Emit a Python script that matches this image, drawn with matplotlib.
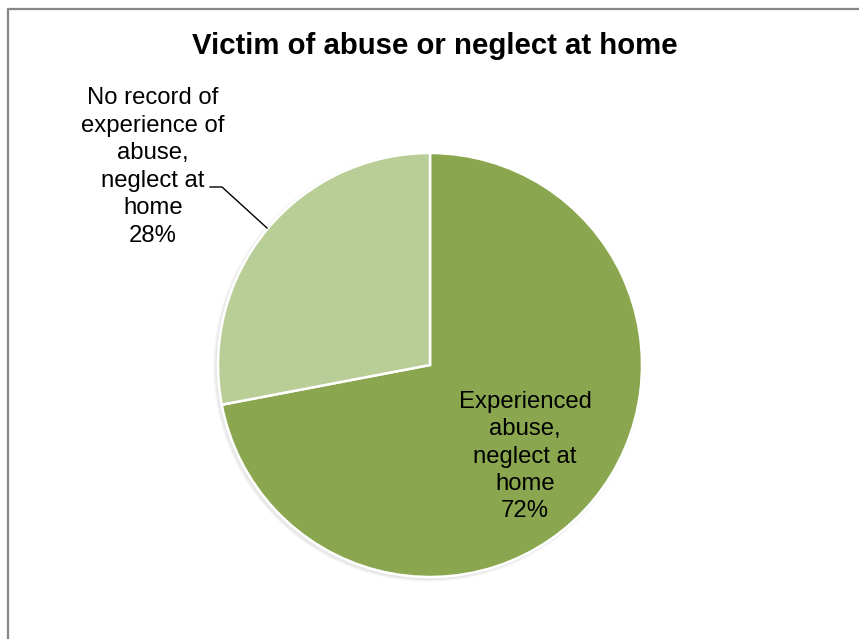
import matplotlib
matplotlib.use("Agg")
import matplotlib.pyplot as plt
from matplotlib.patches import Circle

plt.rcParams['font.family'] = ['Liberation Sans', 'DejaVu Sans']

title = "Victim of abuse or neglect at home"
categories = ["Experienced\nabuse,\nneglect at\nhome", "No record of\nexperience of\nabuse,\nneglect at\nhome"]
values = [72, 28]
colors = ["#8AA74F", "#B9CE96"]

W, H = 859, 639
fig = plt.figure(figsize=(W / 100, H / 100), dpi=100)
ax = fig.add_axes([0, 0, 1, 1])

cx, cy, r = 430, H - 365, 212

# soft shadow under the pie
for i, a in enumerate([0.04, 0.03, 0.02]):
    ax.add_patch(Circle((cx - 2, cy - 2), r + 1 + i, color="black", alpha=a, lw=0, zorder=0))

wedges, _ = ax.pie(values, colors=colors, startangle=90, counterclock=False,
                   center=(cx, cy), radius=r, frame=True,
                   wedgeprops=dict(edgecolor="white", linewidth=1.8))
ax.set_xlim(0, W)
ax.set_ylim(0, H)
ax.axis("off")

total = sum(values)
ax.text(525, H - 456.5, f"{categories[0]}\n{values[0] * 100 // total}%", ha="center", va="center",
        fontsize=17.2, linespacing=1.32, color="black")
ax.text(153, H - 167, f"{categories[1]}\n{values[1] * 100 // total}%", ha="center", va="center",
        fontsize=17.2, linespacing=1.32, color="black")
ax.plot([210, 222, 267], [H - 187, H - 187, H - 228], color="black", lw=1.0)

ax.text(435, H - 46, title, ha="center", va="center", fontsize=21.2, fontweight="bold")

# chart frame
ax.plot([7.5, 7.5, W + 5], [-5, H - 8.5, H - 8.5], color="#878787", lw=1.6, solid_capstyle="butt")

fig.savefig("out.png", dpi=100)
